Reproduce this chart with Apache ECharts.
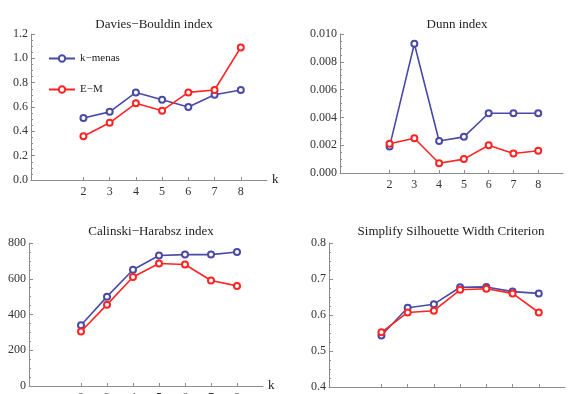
<!DOCTYPE html>
<html>
<head>
<meta charset="utf-8">
<script src="https://cdn.jsdelivr.net/npm/echarts@6/dist/echarts.min.js"></script>
<style>
  html, body { margin: 0; padding: 0; background: #fff; }
  #chart { width: 569px; height: 394px; }
</style>
</head>
<body>
<div id="chart"></div>
<script>
const ks = [2, 3, 4, 5, 6, 7, 8]

// Davies-Bouldin
const dbKmeans = [0.51, 0.56, 0.72, 0.66, 0.60, 0.70, 0.74]
const dbEM = [0.36, 0.47, 0.63, 0.57, 0.72, 0.74, 1.09]
// Dunn
const dunnKmeans = [0.0019, 0.0093, 0.0023, 0.0026, 0.0043, 0.0043, 0.0043]
const dunnEM = [0.0021, 0.0025, 0.0007, 0.0010, 0.0020, 0.0014, 0.0016]
// Calinski-Harabasz
const chKmeans = [340, 500, 650, 730, 735, 735, 750]
const chEM = [305, 455, 610, 685, 680, 590, 560]
// Simplified silhouette
const sswcKmeans = [0.543, 0.620, 0.630, 0.677, 0.678, 0.665, 0.660]
const sswcEM = [0.552, 0.607, 0.612, 0.670, 0.673, 0.660, 0.607]

const titles = ['Davies\u2212Bouldin index', 'Dunn index', 'Calinski\u2212Harabsz index', 'Simplify Silhouette Width Criterion']
const yRanges = [[0, 1.2, 0.2], [0, 0.01, 0.002], [0, 800, 200], [0.4, 0.8, 0.1]]
const yDigits = [1, 3, 0, 1]

const BLUE = '#4a4aa6'
const RED = '#ff2424'
const AXIS = '#8c8c8c'
const TEXT = '#333'
const FONT = '"Liberation Serif", "DejaVu Serif", serif'

// outerBoundsMode none: keep the plot areas where they are, labels may run off the bottom
const grids = [
  { left: 31, top: 34, width: 236, height: 146, outerBoundsMode: 'none' },
  { left: 340, top: 34, width: 223, height: 139, outerBoundsMode: 'none' },
  { left: 29, top: 243, width: 234, height: 143, outerBoundsMode: 'none' },
  { left: 329, top: 243, width: 236, height: 144, outerBoundsMode: 'none' }
]

const pairs = (vals) => ks.map((k, i) => [k, vals[i]])

function makeSeries(name, color, vals, idx) {
  return {
    name: name,
    type: 'line',
    xAxisIndex: idx,
    yAxisIndex: idx,
    data: pairs(vals),
    symbol: 'emptyCircle',
    symbolSize: 6,
    color: color,
    lineStyle: { color: color, width: 1.6 },
    itemStyle: { color: color, borderColor: color, borderWidth: 1.4 },
    emphasis: { disabled: true },
    animation: false,
    z: name === 'E\u2212M' ? 3 : 2
  }
}

const chart = echarts.init(document.getElementById('chart'))

chart.setOption({
  animation: false,
  textStyle: { fontFamily: FONT },
  title: titles.map((t, i) => ({
    text: t,
    left: [149, 452, 146, 446][i],
    top: i < 2 ? 13 : 220,
    textAlign: 'center',
    textStyle: { fontFamily: FONT, fontSize: 13, fontWeight: 'normal', color: '#222' }
  })),
  legend: {
    orient: 'vertical',
    left: 43,
    top: 48,
    itemWidth: 26,
    itemHeight: 8,
    itemGap: 20,
    data: ['k\u2212menas', 'E\u2212M'],
    textStyle: { fontFamily: FONT, fontSize: 11, color: '#222' }
  },
  grid: grids,
  xAxis: grids.map((g, i) => ({
    type: 'value',
    gridIndex: i,
    min: 0,
    max: 9,
    interval: 1,
    name: i % 2 === 0 ? 'k' : '',
    nameLocation: 'end',
    nameGap: 5,
    nameTextStyle: { fontFamily: FONT, fontSize: 13, color: '#222', verticalAlign: 'middle' },
    axisLine: { show: true, lineStyle: { color: AXIS, width: 1 } },
    axisTick: { show: true, inside: true, length: 3, lineStyle: { color: AXIS }, customValues: ks },
    axisLabel: { fontFamily: FONT, fontSize: 12, color: TEXT, margin: 6, customValues: ks },
    splitLine: { show: false }
  })),
  yAxis: grids.map((g, i) => ({
    type: 'value',
    gridIndex: i,
    min: yRanges[i][0],
    max: yRanges[i][1],
    interval: yRanges[i][2],
    axisLine: { show: true, lineStyle: { color: AXIS, width: 1 } },
    axisTick: { show: true, inside: true, length: 4, lineStyle: { color: AXIS } },
    minorTick: { show: true, splitNumber: 4, length: 2, lineStyle: { color: AXIS } },
    axisLabel: {
      fontFamily: FONT, fontSize: 12, color: TEXT, margin: 3,
      formatter: (v) => v.toFixed(yDigits[i])
    },
    splitLine: { show: false }
  })),
  series: [
    makeSeries('k\u2212menas', BLUE, dbKmeans, 0),
    makeSeries('E\u2212M', RED, dbEM, 0),
    makeSeries('k\u2212menas', BLUE, dunnKmeans, 1),
    makeSeries('E\u2212M', RED, dunnEM, 1),
    makeSeries('k\u2212menas', BLUE, chKmeans, 2),
    makeSeries('E\u2212M', RED, chEM, 2),
    makeSeries('k\u2212menas', BLUE, sswcKmeans, 3),
    makeSeries('E\u2212M', RED, sswcEM, 3)
  ]
})
</script>
</body>
</html>
